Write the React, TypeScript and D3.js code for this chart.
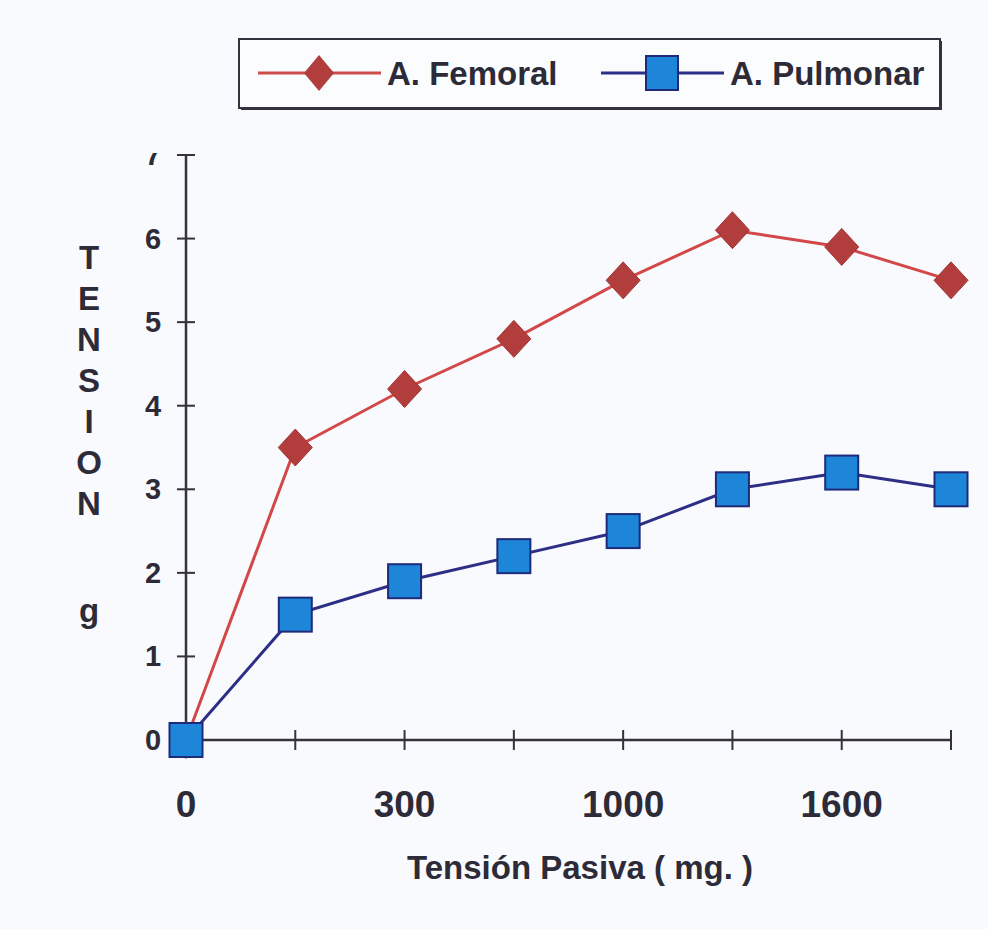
import React from "react";
import * as d3 from "d3";

// categorias del eje x (solo se rotulan algunas)
const categories = ["0", "150", "300", "600", "1000", "1300", "1600", "2000"];
const shownLabels = ["0", "300", "1000", "1600"];
const femoral = [0, 3.5, 4.2, 4.8, 5.5, 6.1, 5.9, 5.5];
const pulmonar = [0, 1.5, 1.9, 2.2, 2.5, 3.0, 3.2, 3.0];
const yTicks = [0, 1, 2, 3, 4, 5, 6, 7];
const yTitle = ["T", "E", "N", "S", "I", "O", "N"];

const W = 988;
const H = 929;
const FONT = "'Liberation Sans', Arial, sans-serif";
const TXT = "#2d2b38";
const AXIS = "#34323c";

export default function App() {
  const x = d3.scalePoint<string>().domain(categories).range([186, 951]).padding(0);
  const y = d3.scaleLinear().domain([0, 7]).range([740, 155]);

  const line = d3
    .line<number>()
    .x((_, i) => x(categories[i]) as number)
    .y((d) => y(d));

  const diamond = (cx: number, cy: number, rx: number, ry: number) =>
    `M${cx},${cy - ry}L${cx + rx},${cy}L${cx},${cy + ry}L${cx - rx},${cy}Z`;

  return (
    <svg
      width={W}
      height={H}
      style={{ position: "absolute", left: 0, top: 0, display: "block" }}
      fontFamily={FONT}
      fontWeight="bold"
    >
      <defs>
        <clipPath id="topclip">
          <rect x={0} y={153} width={W} height={H} />
        </clipPath>
      </defs>
      <rect width={W} height={H} fill="#f9fafd" />

      {/* leyenda */}
      <g>
        <rect x={239} y={39} width={701} height={69} fill="#fbfcfe" stroke={AXIS} strokeWidth={2} />
        <line x1={941} y1={41} x2={941} y2={110} stroke={AXIS} strokeWidth={2} />
        <line x1={241} y1={109} x2={941} y2={109} stroke={AXIS} strokeWidth={2} />
        <line x1={258} y1={73} x2={381} y2={73} stroke="#cf4a4a" strokeWidth={3} />
        <path d={diamond(319, 73, 15, 18)} fill="#b23d3d" />
        <text x={387} y={85} fontSize={33} fill={TXT}>A. Femoral</text>
        <line x1={601} y1={73} x2={724} y2={73} stroke="#2d2f86" strokeWidth={3} />
        <rect x={646} y={56} width={32} height={34} fill="#1d86d8" stroke="#1f2a7a" strokeWidth={2} />
        <text x={730} y={85} fontSize={33} fill={TXT}>A. Pulmonar</text>
      </g>

      {/* ejes */}
      <line x1={186} y1={155} x2={186} y2={740} stroke={AXIS} strokeWidth={2.5} />
      <line x1={186} y1={740} x2={951} y2={740} stroke={AXIS} strokeWidth={2.5} />
      {yTicks.map((t) => (
        <g key={t}>
          <line x1={177} x2={195} y1={y(t)} y2={y(t)} stroke={AXIS} strokeWidth={2} />
          <text
            x={153}
            y={y(t) + 10}
            textAnchor="middle"
            fontSize={29}
            fill={TXT}
            clipPath="url(#topclip)"
          >
            {t}
          </text>
        </g>
      ))}
      {categories.map((c) => (
        <line key={c} x1={x(c)} x2={x(c)} y1={730} y2={750} stroke={AXIS} strokeWidth={2} />
      ))}
      {shownLabels.map((c) => (
        <text key={c} x={x(c)} y={817} textAnchor="middle" fontSize={37} fill={TXT}>
          {c}
        </text>
      ))}

      {/* titulos */}
      {yTitle.map((l, i) => (
        <text key={i} x={89} y={269 + i * 41} textAnchor="middle" fontSize={33} fill={TXT}>
          {l}
        </text>
      ))}
      <text x={89} y={622} textAnchor="middle" fontSize={33} fill={TXT}>g</text>
      <text x={580} y={879} textAnchor="middle" fontSize={33} fill={TXT}>
        Tensión Pasiva ( mg. )
      </text>

      {/* series */}
      <path d={line(femoral) || ""} fill="none" stroke="#d24848" strokeWidth={3} />
      <path d={line(pulmonar) || ""} fill="none" stroke="#2d2f86" strokeWidth={3} />
      {femoral.map((v, i) => (
        <path key={i} d={diamond(x(categories[i]) as number, y(v), 17, 18.5)} fill="#b23d3d" stroke="#a53535" strokeWidth={1} />
      ))}
      {pulmonar.map((v, i) => (
        <rect
          key={i}
          x={(x(categories[i]) as number) - 16.5}
          y={y(v) - 17}
          width={33}
          height={34}
          fill="#1d86d8"
          stroke="#1f2a7a"
          strokeWidth={2}
        />
      ))}
    </svg>
  );
}
